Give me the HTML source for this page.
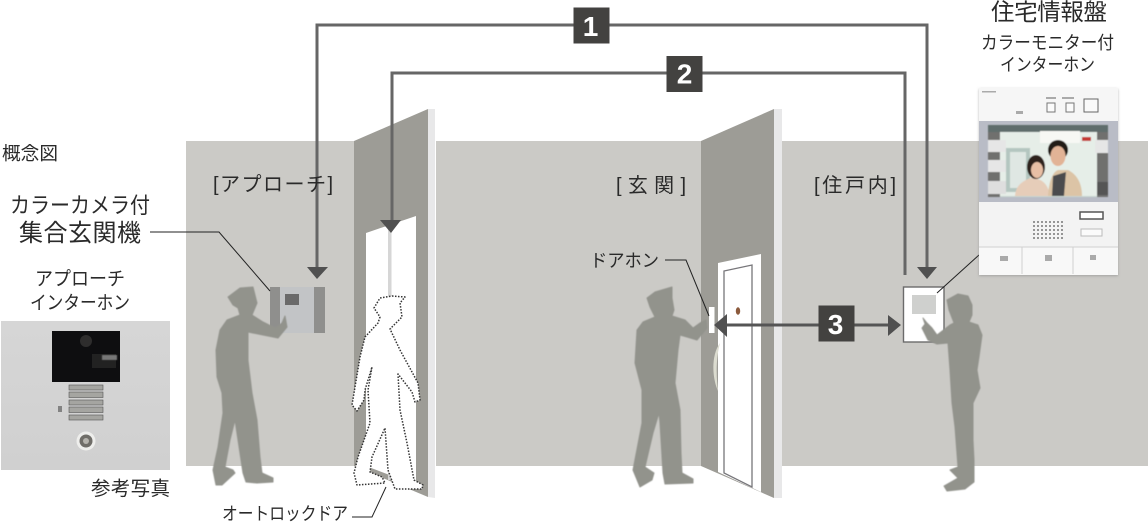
<!DOCTYPE html>
<html lang="ja"><head><meta charset="utf-8">
<style>
html,body{margin:0;padding:0;background:#fff}
body{width:1148px;height:524px;overflow:hidden}
svg{display:block}
text{font-family:"Liberation Sans","Noto Sans CJK JP",sans-serif;fill:#2a2a2a;font-weight:400}
.n{font-family:"Liberation Sans",sans-serif;font-weight:700;fill:#fff;font-size:28px;text-anchor:middle}
</style></head>
<body>
<svg width="1148" height="524" viewBox="0 0 1148 524" xmlns="http://www.w3.org/2000/svg">
<defs>
<filter id="b"><feGaussianBlur stdDeviation="0.5"/></filter>
<filter id="s" x="-10%" y="-10%" width="120%" height="120%"><feDropShadow dx="0" dy="1" stdDeviation="1.2" flood-color="#888" flood-opacity=".6"/></filter>
<pattern id="dots" width="4" height="4" patternUnits="userSpaceOnUse"><circle cx="2" cy="2" r="1" fill="#777"/></pattern>
<linearGradient id="plate" x1="0" y1="0" x2="0" y2="1"><stop offset="0" stop-color="#d6d6d6"/><stop offset="1" stop-color="#d0d0d0"/></linearGradient>
</defs>

<!-- wall -->
<rect x="186" y="141" width="962" height="325" fill="#cbcac6"/>

<!-- auto-lock door -->
<rect x="428" y="100" width="8" height="400" fill="#fff"/>
<polygon points="354,141 428,109 428,497 354,466" fill="#9d9c96"/>
<polygon points="428,109 435,109 435,498 428,497" fill="#e8e8e9"/>
<polygon points="366,233 416,216 416,485 366,466" fill="#fff"/>
<rect x="388" y="225" width="3.5" height="255" fill="#d6d6d6"/>

<!-- entrance door -->
<rect x="774" y="100" width="8" height="400" fill="#fff"/>
<polygon points="701,141 774,109 774,498 701,466" fill="#9d9c96"/>
<polygon points="774,109 782,109 782,498 774,498" fill="#e8e8e9"/>
<polygon points="718,263 761,254 761,492 718,472" fill="#fff"/>
<path d="M724,473 V271 L752,265 V487 Z" fill="#fff" stroke="#77767a" stroke-width="1.3"/>
<ellipse cx="738" cy="311" rx="2.2" ry="3.8" fill="#8b5a3c"/>
<path d="M720,343 C711,355 712,378 718,391 C716,375 716,358 720,343Z" fill="#dcdcd0"/>
<rect x="709" y="307" width="5.5" height="26" fill="#fff"/>

<!-- unit 1 -->
<rect x="270" y="287" width="55" height="46" fill="#c2c4c6"/>
<rect x="270" y="287" width="10" height="46" fill="#8f8f8d"/>
<rect x="314" y="287" width="11" height="46" fill="#8f8f8d"/>
<rect x="285" y="294" width="14" height="11" fill="#6a6a6a"/>

<!-- indoor panel -->
<rect x="903.5" y="287" width="40.5" height="55" fill="#fff" stroke="#6b6b6b" stroke-width="1.4"/>
<rect x="912" y="295" width="24" height="19" fill="#cfd0ce"/>

<!-- connectors -->
<g fill="none" stroke="#666" stroke-width="3">
<path d="M317,270 V25 H927 V268"/>
<path d="M392,222 V73 H905 V275"/>
<path d="M725,325 H892" stroke="#555"/>
</g>
<g fill="#505050">
<polygon points="307,267 328,267 317,279"/>
<polygon points="917,267 937,267 927,279"/>
<polygon points="380,220 401,220 391,233"/>
<polygon points="714,325 727,314 727,337"/>
<polygon points="888,315 901,325 888,336"/>
</g>
<rect x="573.5" y="7.5" width="36" height="36" fill="#434240"/><text class="n" x="590.5" y="36">1</text>
<rect x="666.5" y="56" width="36" height="36" fill="#434240"/><text class="n" x="684.5" y="83.5">2</text>
<rect x="818.5" y="305.5" width="36" height="36" fill="#434240"/><text class="n" x="835.5" y="334">3</text>

<!-- silhouettes -->
<g fill="#92938c" stroke="#92938c" stroke-width="1" stroke-linejoin="round" filter="url(#b)">
<polygon points="228,297 240,288 253,287 255,295 257,303 252,315 263,322 275,328 282,323 285,316 287,327 278,338 263,335 248,332 248,360 252,393 257,420 260,457 262,473 273,478 273,482 257,483 246,482 243,473 238,440 235,420 230,440 225,467 233,470 235,473 222,485 216,485 213,470 218,447 223,413 222,393 217,377 216,350 220,330 227,320 240,315 238,308 233,305"/>
<polygon points="647,298 655,292 672,287 672,298 674,310 672,316 685,320 693,328 700,323 706,320 707,328 697,340 687,337 680,335 678,350 675,383 680,410 681,453 682,473 693,479 693,483 665,484 663,473 660,423 659,413 653,433 645,467 654,473 652,480 640,487 633,470 642,423 642,390 635,363 637,330 643,322 655,317 650,307"/>
<polygon points="947,300 958,294 968,296 972,305 972,315 969,322 978,325 982,335 979,357 977,370 980,388 973,403 973,440 974,460 974,482 965,489 947,491 944,486 958,478 950,470 958,467 955,427 952,403 950,370 948,343 937,344 928,340 922,328 925,324 923,318 927,323 932,328 937,335 950,325 954,323 949,310"/>
</g>

<!-- dotted walker -->
<path d="M392,296 L405,297 L400,303 L402,317 L390,329 L400,350 L418,383 L420,400 L415,402 L412,392 L398,374 L400,410 L407,443 L414,480 L423,485 L422,489 L395,489 L388,470 L385,428 L372,457 L370,472 L382,477 L385,483 L357,485 L354,473 L358,457 L370,423 L368,390 L372,367 L365,390 L364,400 L357,411 L352,405 L360,357 L365,337 L378,323 L380,317 L374,308 L380,298 Z" fill="#fff" stroke="#333" stroke-width="1.5" stroke-dasharray="1.5 1.5" stroke-linejoin="round"/>

<!-- leader lines -->
<g fill="none" stroke="#222" stroke-width="1">
<path d="M150,232 H219 L270,291"/>
<path d="M352,517 H372 L386,487"/>
<path d="M665,260 H686 L709,316"/>
<path d="M937,293 L979,255"/>
</g>

<!-- approach intercom photo -->
<g>
<rect x="1" y="321" width="169" height="149" fill="url(#plate)"/>
<rect x="52" y="331" width="68" height="51" fill="#0e0e10"/>
<circle cx="86" cy="341" r="6" fill="#2e2d2d"/>
<rect x="92" y="354" width="24" height="14" fill="#222"/>
<rect x="102" y="355" width="15" height="5" fill="#777" filter="url(#b)"/>
<g fill="#a5a5a1" stroke="#555" stroke-width=".6">
<rect x="69" y="385" width="34" height="5"/>
<rect x="69" y="392" width="34" height="5.5"/>
<rect x="69" y="400" width="34" height="5"/>
<rect x="69" y="407" width="34" height="5.5"/>
<rect x="69" y="415" width="34" height="5"/>
</g>
<rect x="58.5" y="406" width="1" height="6" fill="#333"/><rect x="60.5" y="406" width="1" height="6" fill="#333"/>
<circle cx="86" cy="441" r="9.5" fill="#eeeeec"/>
<circle cx="86" cy="441" r="6.5" fill="#6f6d68"/>
<circle cx="86" cy="441" r="3" fill="#b5b3ad"/>
</g>

<!-- monitor -->
<rect x="979" y="88" width="139" height="187" fill="#f6f6f6" filter="url(#s)"/>
<rect x="979" y="121" width="139" height="81" fill="#b9bcc6"/>
<rect x="979" y="202" width="139" height="45" fill="#f3f3f3"/>
<rect x="979" y="247" width="139" height="28" fill="#f8f8f8"/>
<path d="M979,247 H1118 M1022,247 V274 M1073,247 V274" stroke="#d0d0d0" stroke-width="1"/>
<g fill="none" stroke="#777" stroke-width="1">
<rect x="1047" y="103" width="8" height="9" fill="#fbfbfb"/>
<rect x="1066" y="103" width="8" height="9" fill="#fbfbfb"/>
</g>
<rect x="1084" y="99" width="14" height="13" fill="#fafafa" stroke="#666" stroke-width="1"/>
<g fill="#aaa"><rect x="1016" y="111" width="7" height="3"/><rect x="1046" y="97" width="10" height="2"/><rect x="1062" y="97" width="12" height="2"/><rect x="982" y="91" width="14" height="1.5"/><rect x="1000" y="256" width="8" height="5"/><rect x="1045" y="255" width="7" height="6"/><rect x="1090" y="255" width="6" height="5"/></g>
<rect x="1080" y="212" width="23" height="7" fill="#fff" stroke="#555" stroke-width="1.5"/>
<rect x="1081" y="229" width="21" height="7" fill="#fbfbfb" stroke="#bbb" stroke-width="1"/>
<rect x="1033" y="219" width="30" height="22" fill="url(#dots)"/>
<g filter="url(#b)">
<rect x="988" y="125" width="120" height="72" fill="#c9d6d0"/>
<rect x="988" y="125" width="120" height="7" fill="#5f6d6c"/>
<rect x="988" y="132" width="12" height="65" fill="#6f6f6e"/>
<rect x="1097" y="132" width="11" height="65" fill="#6f6f6e"/>
<rect x="1000" y="132" width="97" height="64" fill="#e6eee8"/>
<rect x="1006" y="148" width="24" height="44" fill="#b4c6c0"/>
<rect x="1010" y="152" width="16" height="36" fill="#dfe7e3"/>
<rect x="1040" y="131" width="40" height="12" fill="#f7f8f4"/>
<rect x="988" y="140" width="18" height="12" fill="#e6e6e6"/>
<rect x="988" y="160" width="18" height="12" fill="#e6e6e6"/>
<rect x="988" y="181" width="18" height="13" fill="#dedede"/>
<rect x="1095" y="140" width="13" height="13" fill="#e6e6e6"/>
<rect x="1097" y="182" width="11" height="13" fill="#555"/>
<rect x="1082" y="137" width="9" height="4" fill="#c43a34"/>
<path d="M1015,196 C1016,184 1024,181 1030,178 C1040,178 1048,182 1050,196Z" fill="#e6cdb9"/>
<ellipse cx="1036" cy="167" rx="9" ry="12" fill="#2e211b"/>
<ellipse cx="1037" cy="170" rx="6" ry="8" fill="#e8bfa5"/>
<path d="M1048,196 C1049,180 1053,172 1058,170 H1068 C1076,174 1082,182 1082,196Z" fill="#dcc4a6"/>
<path d="M1052,196 L1053,176 L1066,172 L1064,196Z" fill="#4b4b4e"/>
<ellipse cx="1058" cy="150" rx="10" ry="10" fill="#201a17"/>
<ellipse cx="1058" cy="156" rx="7.5" ry="10" fill="#e2b396"/>
</g>

<!-- labels -->
<text x="2" y="160" font-size="18.5" textLength="56" lengthAdjust="spacingAndGlyphs">概念図</text>
<text x="213" y="191" font-size="20" textLength="120" lengthAdjust="spacing">[アプローチ]</text>
<text x="10" y="213" font-size="22" textLength="140" lengthAdjust="spacingAndGlyphs">カラーカメラ付</text>
<text x="19" y="241" font-size="24" textLength="122" lengthAdjust="spacing">集合玄関機</text>
<text x="35" y="285" font-size="19" textLength="90" lengthAdjust="spacingAndGlyphs">アプローチ</text>
<text x="30" y="309" font-size="19" textLength="100" lengthAdjust="spacingAndGlyphs">インターホン</text>
<text x="91" y="495" font-size="19.5" textLength="79" lengthAdjust="spacing">参考写真</text>
<text x="222" y="520" font-size="18" textLength="126" lengthAdjust="spacingAndGlyphs">オートロックドア</text>
<text x="590" y="267" font-size="18" textLength="69" lengthAdjust="spacingAndGlyphs">ドアホン</text>
<text x="616" y="192" font-size="20" textLength="70" lengthAdjust="spacing">[玄関]</text>
<text x="814" y="192" font-size="20" textLength="82" lengthAdjust="spacing">[住戸内]</text>
<text x="991" y="20" font-size="23.5" textLength="116" lengthAdjust="spacing">住宅情報盤</text>
<text x="981" y="49" font-size="18" textLength="133" lengthAdjust="spacingAndGlyphs">カラーモニター付</text>
<text x="1000" y="71" font-size="18" textLength="95" lengthAdjust="spacingAndGlyphs">インターホン</text>
</svg>
</body></html>
